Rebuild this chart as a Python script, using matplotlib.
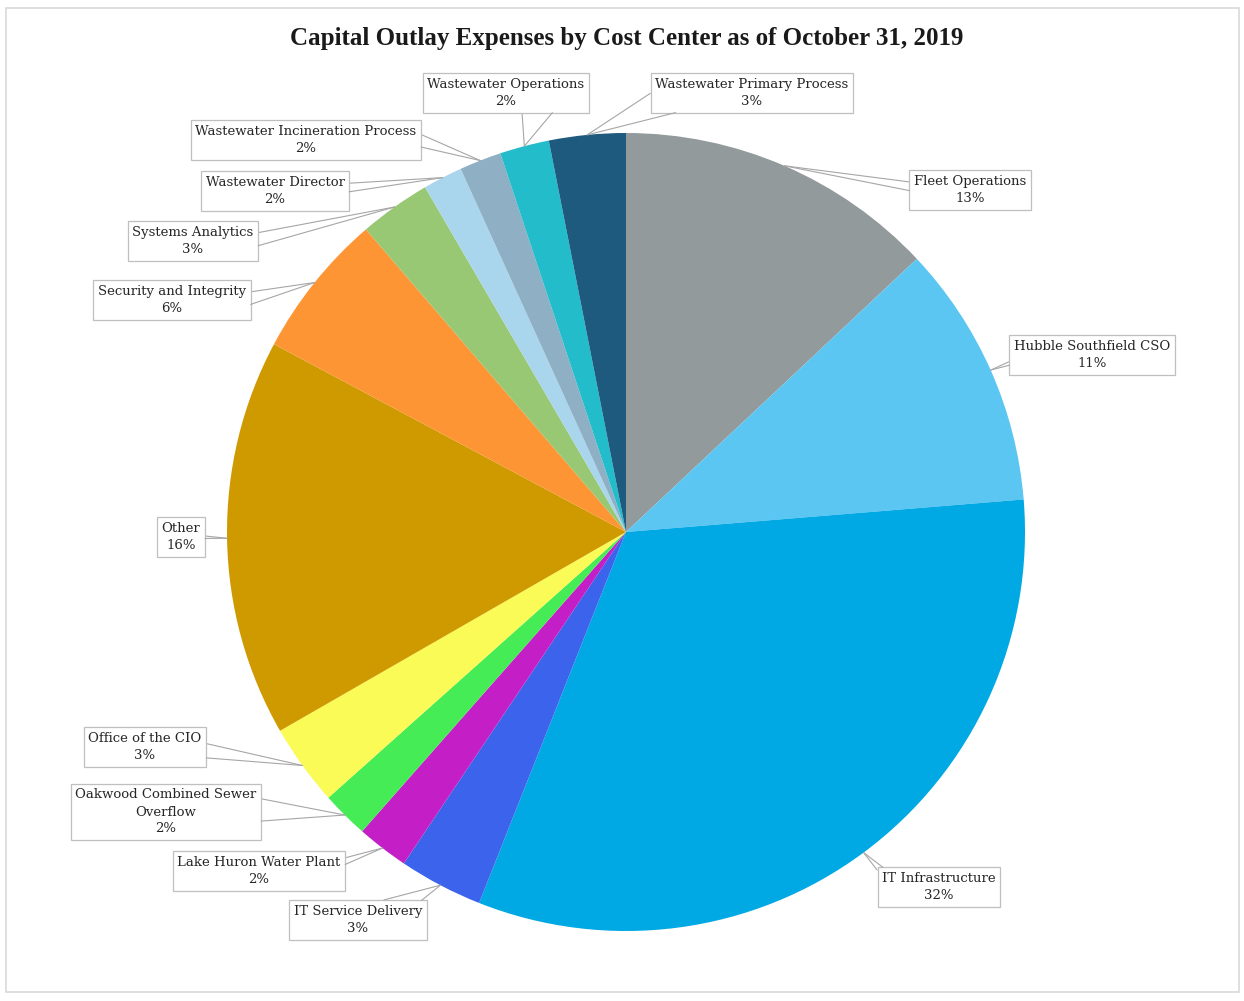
import numpy as np
import matplotlib.pyplot as plt

W, H = 1244, 1001

cost_centers = [
    "Fleet Operations",
    "Hubble Southfield CSO",
    "IT Infrastructure",
    "IT Service Delivery",
    "Lake Huron Water Plant",
    "Oakwood Combined Sewer\nOverflow",
    "Office of the CIO",
    "Other",
    "Security and Integrity",
    "Systems Analytics",
    "Wastewater Director",
    "Wastewater Incineration Process",
    "Wastewater Operations",
    "Wastewater Primary Process",
]
shares = [13.0, 10.7, 32.3, 3.4, 2.1, 1.9, 3.3, 16.1, 5.9, 2.9, 1.6, 1.7, 2.0, 3.1]
colors = [
    "#939a9b", "#5cc6f2", "#00a8e4", "#3b63ec", "#c41ec6", "#46ec55", "#fbfb58",
    "#cf9a00", "#fe9534", "#98c873", "#a9d6ec", "#8fb0c4", "#22bccb", "#1d5a7e",
]

# label box centres (pixels from top-left) and where the two leader lines leave the box
label_pos = [
    (970, 190), (1092, 355), (939, 887), (358, 920), (259, 871), (166, 812),
    (145, 747), (181, 537), (172, 300), (193, 241), (275, 191), (306, 140),
    (506, 93), (752, 93),
]
leader_rel = [
    [(0, 0.75), (0, 0.45)], [(0, 0.35), (0, 0.2)], [(0, 0.85), (0.06, 1)],
    [(0.55, 1), (0.95, 1)], [(1, 0.9), (1, 0.65)], [(1, 0.8), (1, 0.3)],
    [(1, 0.65), (1, 0.15)], [(1, 0.55), (1, 0.45)], [(1, 0.75), (1, 0.3)],
    [(1, 0.75), (1, 0.3)], [(1, 0.75), (1, 0.45)], [(1, 0.75), (1, 0.3)],
    [(0.6, 0), (0.82, 0)], [(0, 0.6), (0.2, 0)],
]

cx, cy, R = 626, H - 532, 399

fig = plt.figure(figsize=(W / 100, H / 100), dpi=100)
ax = fig.add_axes([0, 0, 1, 1])

wedges, _ = ax.pie(shares, colors=colors, startangle=90, counterclock=False,
                   center=(cx, cy), radius=R, wedgeprops=dict(linewidth=0))
ax.set_xlim(0, W)
ax.set_ylim(0, H)
ax.set_aspect("equal")
ax.axis("off")

# chart frame
ax.add_patch(plt.Rectangle((6, H - 992), 1233, 984, fill=False,
                           ec="#d9d9d9", lw=1.2))

ax.text(627, H - 39, "Capital Outlay Expenses by Cost Center as of October 31, 2019",
        ha="center", va="center", fontsize=18, fontweight="bold",
        family="Liberation Serif", color="#1a1a1a")

total = sum(shares)
for w, name, val, (bx, by), rels in zip(wedges, cost_centers, shares,
                                        label_pos, leader_rel):
    ang = np.deg2rad((w.theta1 + w.theta2) / 2)
    xa, ya = cx + R * np.cos(ang), cy + R * np.sin(ang)
    text = f"{name}\n{val / total * 100:.0f}%"
    for k, rp in enumerate(rels):
        first = k == 0
        ax.annotate(
            text, xy=(xa, ya), xytext=(bx, H - by),
            ha="center", va="center", multialignment="center",
            fontsize=9.5, family="DejaVu Serif", linespacing=1.4,
            color="#262626" if first else "none",
            bbox=dict(boxstyle="square,pad=0.35",
                      fc="white" if first else "none",
                      ec="#bfbfbf" if first else "none", lw=0.9),
            arrowprops=dict(arrowstyle="-", color="#a6a6a6", lw=0.8,
                            relpos=rp, shrinkA=0, shrinkB=0),
            zorder=3,
        )

fig.savefig("out.png", dpi=100, facecolor="white")
